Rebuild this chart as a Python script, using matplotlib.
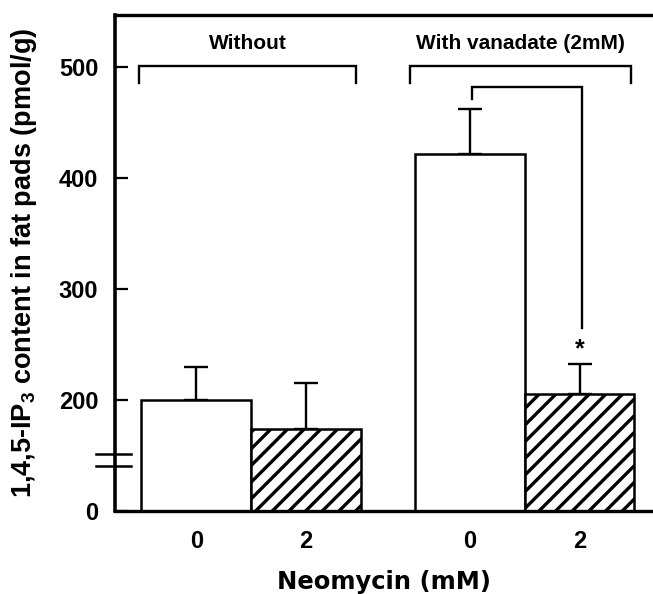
import numpy as np
import matplotlib
matplotlib.use("Agg")
import matplotlib.pyplot as plt

plt.rcParams['font.family'] = ['Liberation Sans', 'DejaVu Sans']
plt.rcParams['font.weight'] = 'bold'
plt.rcParams['mathtext.default'] = 'regular'
plt.rcParams['hatch.linewidth'] = 2.4

# data (pmol/g)
groups = ["Without", "With vanadate (2mM)"]
neomycin_labels = ["0", "2", "0", "2"]
means = [200, 174, 422, 205]
sem_upper = [30, 41, 40, 27]
hatches = ["", "//", "", "//"]

xpos = np.array([0, 1, 2.5, 3.5])


# broken axis: 0-150 squeezed, linear above 150
def fwd(v):
    v = np.asarray(v, dtype=float)
    return np.where(v <= 150, v / 3.0, v - 100)


def inv(d):
    d = np.asarray(d, dtype=float)
    return np.where(d <= 50, d * 3.0, d + 100)


fig = plt.figure(figsize=(6.53, 5.94), dpi=100)
ax = fig.add_axes([0.176, 0.14, 0.824, 0.835])
ax.set_yscale('function', functions=(fwd, inv))

ax.bar(xpos, means, width=1.0, color="white", edgecolor="black",
       linewidth=1.8, hatch=hatches, zorder=2)
ax.errorbar(xpos, means, yerr=[np.zeros(4), sem_upper], fmt="none",
            ecolor="black", elinewidth=1.7, capsize=8.5, capthick=1.7,
            zorder=1)

# group brackets
br_top, br_drop = 501, 486
for (x0, x1), name in zip([(-0.52, 1.46), (1.95, 3.97)], groups):
    ax.plot([x0, x0, x1, x1], [br_drop, br_top, br_top, br_drop],
            color="black", lw=1.7, solid_joinstyle="miter")
    ax.text((x0 + x1) / 2, 521, name, ha="center", va="center",
            fontsize=15, fontweight="bold")

# significance bracket
ax.plot([2.52, 2.52, 3.52, 3.52], [471, 482, 482, 265],
        color="black", lw=1.7, solid_joinstyle="miter")
ax.text(3.5, 246, "*", ha="center", va="center", fontsize=18,
        fontweight="bold")

# axis break marks
ax.plot([-0.915, -0.595], [122, 122], color="black", lw=1.8, clip_on=False)
ax.plot([-0.915, -0.595], [151, 151], color="black", lw=1.8, clip_on=False)

ax.set_xlim(-0.742, 4.17)
ax.set_ylim(0, 547)
ax.set_yticks([0, 200, 300, 400, 500])
ax.set_yticklabels(["0", "200", "300", "400", "500"])
ax.yaxis.set_minor_locator(plt.NullLocator())
ax.set_xticks(xpos)
ax.set_xticklabels(neomycin_labels)

ax.tick_params(axis="y", direction="in", length=9, width=1.6,
               labelsize=17, pad=12)
ax.tick_params(axis="x", length=0, labelsize=17, pad=14)
for lab in ax.get_xticklabels() + ax.get_yticklabels():
    lab.set_fontweight("bold")

ax.spines["right"].set_visible(False)
ax.spines["left"].set_linewidth(2.6)
ax.spines["top"].set_linewidth(2.4)
ax.spines["bottom"].set_linewidth(2.4)

ax.set_ylabel("1,4,5-IP$_3$ content in fat pads (pmol/g)", fontsize=19.5,
              fontweight="bold", labelpad=14)
ax.set_xlabel("Neomycin (mM)", fontsize=17.5, fontweight="bold",
              family="DejaVu Sans", labelpad=12)

fig.savefig("out.png", dpi=100)
